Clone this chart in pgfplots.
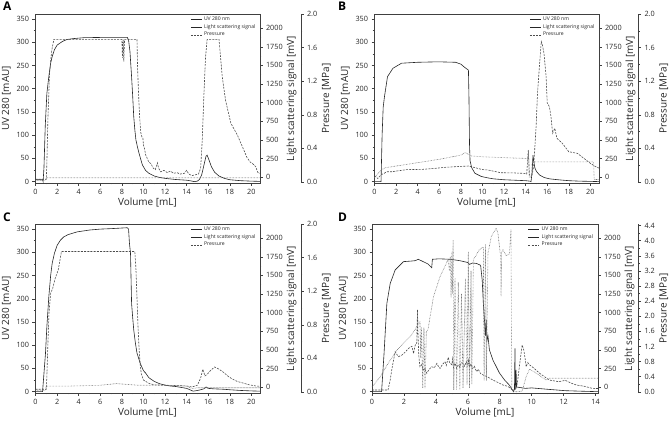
\documentclass[border=0pt]{standalone}
\usepackage{pgfplots}
\pgfplotsset{compat=1.18}
\usepackage{fontspec}
\setmainfont{Open Sans}
\definecolor{axc}{gray}{0.25}
\tikzset{
  uvl/.style={black!85, line width=0.6pt},
  lsl/.style={black!70, line width=0.6pt, dash pattern=on 2bp off 1.2bp},
  prl/.style={black!55, line width=0.6pt, dash pattern=on 0.6bp off 0.9bp},
}
\pgfplotsset{
  base/.style={scale only axis, height=169bp, anchor=south west,
    axis line style={axc, line width=0.5pt}, tick style={axc, line width=0.5pt},
    tick align=outside, major tick length=2.5bp, minor tick length=1.4bp,
    ticklabel style={font=\fontsize{7.3}{8}\selectfont, text=black!85},
    label style={font=\fontsize{10}{11}\selectfont, text=black!85},
    /pgf/number format/assume math mode=true, /pgf/number format/1000 sep={},
    clip=false},
  mainax/.style={base, ymin=-3, ymax=361, ytick={0,50,...,350}, minor y tick num=1,
    minor x tick num=1, xtick distance=2, tick pos=left,
    ylabel={UV 280 [mAU]}, xlabel={Volume [mL]},
    ylabel style={yshift=-1bp}, xlabel style={yshift=3bp},
    legend cell align=left,
    legend style={draw=none, fill=none, at={(0.69,0.995)}, anchor=north west,
      font=\fontsize{5.1}{5.6}\selectfont, row sep=-1.6pt, inner sep=0pt, text=black!85},
    legend image code/.code={\draw[##1] (0bp,0bp) -- (11bp,0bp);}},
  lsax/.style={base, axis x line=none, axis y line*=right, ymin=-80, ymax=2190,
    ytick={0,250,...,2000}, minor y tick num=1, ylabel={Light scattering signal [mV]},
    ylabel style={yshift=3bp}},
  prhide/.style={base, hide axis},
  prscale/.style={base, width=0.5bp, xmin=0, xmax=1, axis x line=none, axis y line*=right,
    minor y tick num=1, ylabel={Pressure [MPa]}, ylabel style={yshift=2bp},
    /pgf/number format/.cd, fixed, fixed zerofill, precision=1},
}
\begin{document}
\begin{tikzpicture}[x=1bp,y=1bp]
\useasboundingbox (0,0) rectangle (669,421);
% ================= A =================
\begin{axis}[mainax, at={(35bp,238bp)}, width=225bp, xmin=-0.05, xmax=20.8]
\addplot[uvl] coordinates {(0,4)(0.65,4)(0.7,0)(0.78,30)(0.9,120)(1.05,190)(1.23,226)(1.4,255)(1.54,269)(1.75,284)(2,294)(2.5,302)(2.9,306)(3.5,308)(4.5,310)(6,310.5)(8.5,310.5)(8.62,305)(8.75,280)(8.9,226)(9.0,185)(9.1,140)(9.2,112)(9.3,90)(9.45,74)(9.58,62)(9.75,48)(9.9,36)(10.2,24)(10.5,18)(11,12)(11.5,9)(12,7)(13,4.5)(14,3)(14.4,1.5)(14.7,0)(15,1)(15.2,5)(15.4,15)(15.6,35)(15.8,55)(15.9,57)(16.1,45)(16.3,32)(16.6,20)(17,12)(17.5,7)(18,4)(19,2)(20,1)(20.8,0.5)};
\addlegendimage{uvl}\addlegendentry{UV 280 nm}
\addlegendimage{lsl}\addlegendentry{Light scattering signal}
\addlegendimage{prl}\addlegendentry{Pressure}
\end{axis}
\begin{axis}[lsax, at={(35bp,238bp)}, width=225bp, xmin=-0.05, xmax=20.8]
\addplot[lsl] coordinates {(0,-30)(1.0,-30)(1.05,200)(1.15,800)(1.3,1400)(1.5,1700)(1.7,1850)(8.0,1850)(8.05,1600)(8.12,1850)(8.18,1550)(8.25,1850)(9.4,1850)(9.45,1500)(9.55,1100)(9.65,800)(9.75,600)(9.85,540)(9.95,520)(10.0,430)(10.1,380)(10.2,300)(10.35,250)(10.5,200)(10.7,180)(10.9,120)(11.1,100)(11.3,190)(11.4,120)(11.6,70)(11.9,90)(12.2,60)(12.5,80)(12.8,50)(13.1,60)(13.4,40)(13.8,50)(14.0,90)(14.2,40)(14.5,20)(14.8,30)(15.1,40)(15.3,120)(15.45,500)(15.6,1100)(15.75,1600)(15.9,1850)(17.0,1850)(17.15,1600)(17.3,1349)(17.6,1036)(18.1,722)(18.7,565)(19.3,363)(19.6,260)(19.9,200)(20.2,170)(20.4,139)(20.6,60)(20.8,50)};
\end{axis}
\begin{axis}[prhide, at={(35bp,238bp)}, width=225bp, xmin=-0.05, xmax=20.8, ymin=-0.012, ymax=2.0]
\addplot[prl] coordinates {(0,0.02)(0.9,0.02)(1.0,0.05)(20.8,0.05)};
\end{axis}
\begin{axis}[prscale, at={(300.5bp,238bp)}, ymin=-0.012, ymax=2.0, ytick={0,0.4,0.8,1.2,1.6,2.0}]
\end{axis}
% ================= B =================
\begin{axis}[mainax, at={(374bp,238bp)}, width=225bp, xmin=-0.05, xmax=20.8]
\addplot[uvl] coordinates {(0,0)(0.6,0)(0.7,100)(0.8,160)(0.92,183)(1.2,226)(1.7,244)(2.5,255)(4,257)(5.9,258)(7.5,257)(8,253)(8.3,247)(8.7,240)(8.75,180)(8.8,80)(8.85,45)(9.0,30)(9.3,18)(9.9,11)(10.5,8)(11,6)(12,4)(13,3)(14,2)(14.4,1)(14.5,0)(14.6,20)(14.68,57)(14.75,45)(14.85,30)(15,22)(15.3,14)(15.7,9)(16.2,6)(17,4)(18,2)(19,1)(20,0.5)(20.8,0)};
\addlegendimage{uvl}\addlegendentry{UV 280 nm}
\addlegendimage{lsl}\addlegendentry{Light scattering signal}
\addlegendimage{prl}\addlegendentry{Pressure}
\end{axis}
\begin{axis}[lsax, at={(374bp,238bp)}, width=225bp, xmin=-0.05, xmax=20.8]
\addplot[lsl] coordinates {(0,20)(0.3,-20)(0.6,30)(0.9,50)(1.1,71)(1.6,71)(2,80)(3,100)(4.4,103)(5.5,115)(6.5,130)(7.5,139)(8.7,148)(9.2,130)(10,100)(10.5,95)(11.7,58)(13,55)(13.9,49)(14.1,40)(14.25,363)(14.35,27)(14.6,30)(14.75,150)(14.97,676)(15.1,1125)(15.3,1529)(15.45,1820)(15.55,1780)(15.7,1663)(15.9,1349)(16.0,995)(16.2,946)(16.35,811)(16.5,588)(16.7,655)(16.9,520)(17.4,453)(18,340)(18.8,318)(19.4,251)(20,184)(20.5,139)(20.8,120)};
\end{axis}
\begin{axis}[prhide, at={(374bp,238bp)}, width=225bp, xmin=-0.05, xmax=20.8, ymin=-0.012, ymax=2.0]
\addplot[prl] coordinates {(0,0.05)(0.3,0.1)(0.7,0.15)(1,0.17)(2,0.19)(4,0.23)(6,0.27)(8,0.32)(8.4,0.35)(9,0.31)(10,0.30)(12,0.29)(14.2,0.28)(14.27,0.37)(14.32,0.06)(14.55,0.06)(14.6,0.24)(20.3,0.24)(20.35,0.03)(20.8,0.03)};
\end{axis}
\begin{axis}[prscale, at={(638bp,238bp)}, ymin=-0.012, ymax=2.0, ytick={0,0.4,0.8,1.2,1.6,2.0}]
\end{axis}
% ================= C =================
\begin{axis}[mainax, at={(35bp,28bp)}, width=225bp, xmin=-0.05, xmax=20.8]
\addplot[uvl] coordinates {(0,0)(0.65,0)(0.75,30)(0.92,82)(1.05,140)(1.23,204)(1.4,250)(1.54,276)(1.75,298)(2.0,315)(2.3,326)(2.6,333)(3.0,338)(3.85,344)(5,348)(6,350)(7,351)(8.5,353)(8.62,350)(8.7,320)(8.8,298)(8.9,190)(9.0,160)(9.1,133)(9.25,105)(9.4,83)(9.7,61)(10.0,45)(10.2,40)(10.5,30)(11,22)(11.5,17)(12,14)(12.5,12)(13,11)(13.5,9)(14,7)(14.3,4)(14.6,1)(14.9,2)(15.3,4)(15.6,6)(15.8,10)(16.0,7)(16.5,6)(17,5.5)(17.5,5)(18,4)(19,2.5)(20,1.5)(20.8,1)};
\addlegendimage{uvl}\addlegendentry{UV 280 nm}
\addlegendimage{lsl}\addlegendentry{Light scattering signal}
\addlegendimage{prl}\addlegendentry{Pressure}
\end{axis}
\begin{axis}[lsax, at={(35bp,28bp)}, width=225bp, xmin=-0.05, xmax=20.8]
\addplot[lsl] coordinates {(0,-30)(1.0,-30)(1.05,150)(1.15,600)(1.25,1000)(1.4,1260)(1.6,1330)(1.8,1450)(2.1,1573)(2.2,1650)(2.4,1820)(9.2,1820)(9.3,1600)(9.4,1200)(9.5,800)(9.6,500)(9.7,300)(9.8,180)(10,94)(10.5,50)(11,30)(12,25)(13,20)(14,15)(14.5,0)(15,25)(15.3,120)(15.5,240)(15.7,150)(15.9,170)(16.2,220)(16.6,270)(17,240)(17.4,200)(17.8,150)(18.2,110)(18.7,75)(19.2,55)(19.8,30)(20.4,15)(20.8,10)};
\end{axis}
\begin{axis}[prhide, at={(35bp,28bp)}, width=225bp, xmin=-0.05, xmax=20.8, ymin=-0.012, ymax=2.0]
\addplot[prl] coordinates {(0,0.02)(0.9,0.02)(1.0,0.07)(3,0.07)(6,0.08)(7.5,0.1)(8.5,0.09)(9.5,0.08)(12,0.08)(14,0.07)(14.5,0.04)(15,0.05)(20.8,0.05)};
\end{axis}
\begin{axis}[prscale, at={(300.5bp,28bp)}, ymin=-0.012, ymax=2.0, ytick={0,0.4,0.8,1.2,1.6,2.0}]
\end{axis}
% ================= D =================
\begin{axis}[mainax, at={(372bp,28bp)}, width=226bp, xmin=0, xmax=14.15]
\addplot[uvl] coordinates {(0,0)(0.6,0)(0.75,80)(0.93,190)(1.14,233)(1.45,262)(1.97,280)(2.4,281)(2.7,282)(2.9,285)(3.2,280)(3.5,275)(3.74,267)(3.78,285)(4.2,286)(4.9,285)(5.5,282)(6.0,278)(6.1,274)(6.3,277)(6.55,276)(6.8,272)(6.9,240)(6.97,190)(7.05,150)(7.1,120)(7.15,155)(7.2,110)(7.26,120)(7.35,90)(7.57,68)(7.98,40)(8.3,25)(8.6,14)(8.8,3)(8.85,0)(8.92,5)(8.95,93)(8.97,5)(9.02,47)(9.05,10)(9.6,7)(10,8)(11,5)(12.1,2)(13,1)(14,0)(14.15,0)};
\addlegendimage{uvl}\addlegendentry{UV 280 nm}
\addlegendimage{lsl}\addlegendentry{Light scattering signal}
\addlegendimage{prl}\addlegendentry{Pressure}
\end{axis}
\begin{axis}[lsax, at={(372bp,28bp)}, width=226bp, xmin=0, xmax=14.15]
\addplot[lsl] coordinates {(0,-40)(1.0,-40)(1.14,94)(1.25,250)(1.35,363)(1.45,475)(1.55,440)(1.66,408)(1.87,430)(2.08,470)(2.29,520)(2.5,547)(2.6,450)(2.7,560)(2.8,588)(2.85,1040)(2.88,700)(2.93,420)(3.0,273)(3.1,300)(3.2,229)(3.3,250)(3.43,184)(3.55,230)(3.74,273)(3.9,260)(4.06,318)(4.15,280)(4.26,250)(4.4,300)(4.57,341)(4.65,290)(4.78,400)(4.85,330)(5.0,300)(5.05,380)(5.1,260)(5.2,320)(5.3,251)(5.4,300)(5.5,270)(5.6,330)(5.7,318)(5.8,280)(5.9,340)(6.0,300)(6.05,360)(6.1,270)(6.2,310)(6.3,250)(6.4,280)(6.55,206)(6.65,240)(6.8,180)(6.97,161)(7.2,140)(7.57,94)(7.9,60)(8.2,27)(8.5,10)(8.8,-40)(9.0,-30)(9.1,50)(9.2,229)(9.3,400)(9.4,565)(9.5,500)(9.6,363)(9.65,273)(9.75,330)(9.85,300)(10.1,260)(10.5,184)(11.1,94)(11.7,72)(12.1,90)(12.5,50)(12.8,27)(13.3,10)(13.8,-18)(14.15,-20)};
\end{axis}
\begin{axis}[prhide, at={(372bp,28bp)}, width=226bp, xmin=0, xmax=14.15, ymin=-0.03, ymax=4.44]
\addplot[prl] coordinates {(0,0.13)(0.52,0.4)(1.0,0.75)(1.56,1.1)(2.0,1.3)(2.39,1.46)(2.7,1.65)(2.9,1.81)(3.0,1.85)(3.05,0.9)(3.1,1.7)(3.18,0.1)(3.25,1.7)(3.32,0.1)(3.4,1.6)(3.5,1.64)(3.64,1.99)(3.85,2.52)(4.06,2.79)(4.26,3.05)(4.57,3.32)(4.75,3.5)(4.85,3.2)(4.9,3.58)(4.95,2.5)(5.0,3.7)(5.03,2.6)(5.08,4.02)(5.12,0.05)(5.2,3.0)(5.3,0.05)(5.4,2.9)(5.5,0.05)(5.6,2.6)(5.7,0.1)(5.85,3.0)(5.95,0.2)(6.03,3.71)(6.1,0.1)(6.2,3.2)(6.25,0.2)(6.35,3.5)(6.5,3.6)(6.7,3.75)(6.85,3.8)(6.97,3.83)(7.02,0.3)(7.1,3.9)(7.16,0.3)(7.26,3.67)(7.47,4.11)(7.78,4.33)(7.88,4.2)(8.05,3.6)(8.08,2.52)(8.12,3.7)(8.2,3.76)(8.4,3.6)(8.6,3.65)(8.7,4.3)(8.75,0.05)(9.0,0.0)(9.4,0.02)(9.65,0.4)(9.86,0.6)(10.3,0.49)(10.9,0.31)(11.1,0.36)(14.15,0.36)};
\end{axis}
\begin{axis}[prscale, at={(638bp,28bp)}, ymin=-0.03, ymax=4.44, ytick={0,0.4,0.8,1.2,1.6,2.0,2.4,2.8,3.2,3.6,4.0,4.4}]
\end{axis}
% panel letters
\node[anchor=north west, inner sep=0pt, font=\bfseries\fontsize{12}{12}\selectfont] at (3,419) {A};
\node[anchor=north west, inner sep=0pt, font=\bfseries\fontsize{12}{12}\selectfont] at (338,419) {B};
\node[anchor=north west, inner sep=0pt, font=\bfseries\fontsize{12}{12}\selectfont] at (3,208) {C};
\node[anchor=north west, inner sep=0pt, font=\bfseries\fontsize{12}{12}\selectfont] at (338,208) {D};
\end{tikzpicture}
\end{document}
